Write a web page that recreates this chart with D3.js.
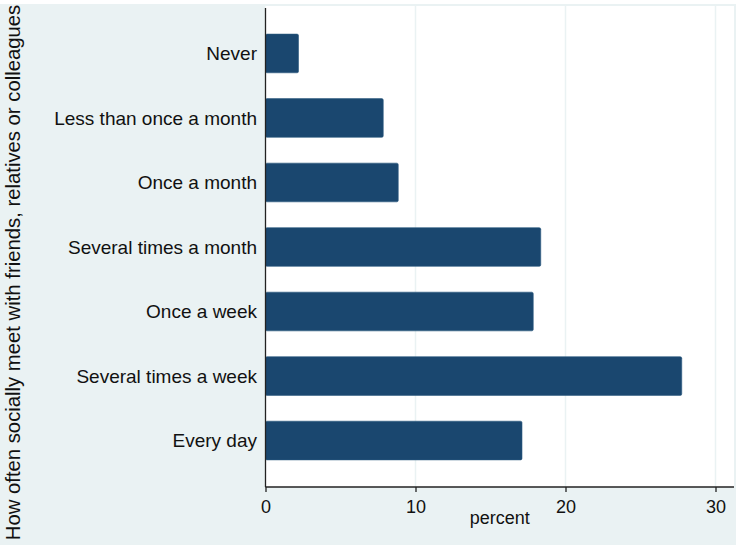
<!DOCTYPE html>
<html>
<head>
<meta charset="utf-8">
<script src="https://cdn.jsdelivr.net/npm/d3@7"></script>
<style>
  body { margin: 0; background: #fff; }
  text { font-family: "Liberation Sans", Arial, Helvetica, sans-serif; fill: #111; }
</style>
</head>
<body>
<div id="chart"></div>
<script>
const width = 741;
const height = 550;

// data
const categories = ["Never", "Less than once a month", "Once a month", "Several times a month",
    "Once a week", "Several times a week", "Every day"];
const percents = [2.2, 7.85, 8.85, 18.35, 17.85, 27.75, 17.1];
const xTicks = [0, 10, 20, 30];

const yTitle = "How often socially meet with friends, relatives or colleagues";
const xTitle = "percent";

const rows = categories.map((c, i) => ({ cat: c, value: percents[i] }));

const svg = d3.select("#chart").append("svg")
    .attr("width", width)
    .attr("height", height);

// outer graph region (stata s2color)
svg.append("rect")
    .attr("x", 0).attr("y", 4)
    .attr("width", 736).attr("height", 541)
    .attr("fill", "#eaf2f3");

const plot = { left: 265.5, right: 734, top: 6, bottom: 487 };

svg.append("rect")
    .attr("x", plot.left).attr("y", plot.top)
    .attr("width", plot.right - plot.left).attr("height", plot.bottom - plot.top)
    .attr("fill", "#fff");

const x = d3.scaleLinear()
    .domain([0, 30])
    .range([plot.left, 715.5]);

const y = d3.scaleBand()
    .domain(categories)
    .range([plot.top + 1, plot.bottom])
    .paddingInner(0.4)
    .paddingOuter(0.42);

// gridlines
svg.append("g")
    .selectAll("line")
    .data(xTicks.filter(d => d > 0))
    .enter()
    .append("line")
    .attr("x1", d => x(d)).attr("x2", d => x(d))
    .attr("y1", plot.top).attr("y2", plot.bottom)
    .attr("stroke", "#eaf2f3")
    .attr("stroke-width", 1.5);

// bars
svg.append("g")
    .selectAll("rect")
    .data(rows)
    .enter()
    .append("rect")
    .attr("x", x(0))
    .attr("y", d => y(d.cat))
    .attr("width", d => x(d.value) - x(0))
    .attr("height", y.bandwidth())
    .attr("rx", 1.5)
    .attr("fill", "#1a476f")
    .attr("stroke", "#2b5a80")
    .attr("stroke-width", 0.6);

// x axis
const xAxis = svg.append("g")
    .attr("transform", `translate(0, ${plot.bottom})`)
    .call(d3.axisBottom(x).tickValues(xTicks).tickSize(5).tickPadding(8).tickSizeOuter(0));

xAxis.select(".domain")
    .attr("d", `M${plot.left},0H${plot.right}`)
    .attr("stroke", "#222")
    .attr("stroke-width", 1.3);
xAxis.selectAll(".tick line").attr("stroke", "#222").attr("stroke-width", 1.3);
xAxis.selectAll(".tick text")
    .attr("font-size", 18)
    .attr("font-family", null)
    .attr("fill", "#111");

// y axis line
svg.append("line")
    .attr("x1", plot.left).attr("x2", plot.left)
    .attr("y1", plot.top + 2).attr("y2", plot.bottom)
    .attr("stroke", "#222")
    .attr("stroke-width", 1.3);

// category labels
svg.append("g")
    .selectAll("text")
    .data(rows)
    .enter()
    .append("text")
    .attr("x", 257)
    .attr("y", d => y(d.cat) + y.bandwidth() / 2)
    .attr("dy", "0.36em")
    .attr("text-anchor", "end")
    .attr("font-size", 19)
    .text(d => d.cat);

// axis titles
svg.append("text")
    .attr("x", (plot.left + plot.right) / 2)
    .attr("y", 524)
    .attr("text-anchor", "middle")
    .attr("font-size", 18)
    .text(xTitle);

svg.append("text")
    .attr("transform", `translate(19.5, ${(5 + 540) / 2}) rotate(-90)`)
    .attr("text-anchor", "middle")
    .attr("font-size", 20.3)
    .text(yTitle);
</script>
</body>
</html>
